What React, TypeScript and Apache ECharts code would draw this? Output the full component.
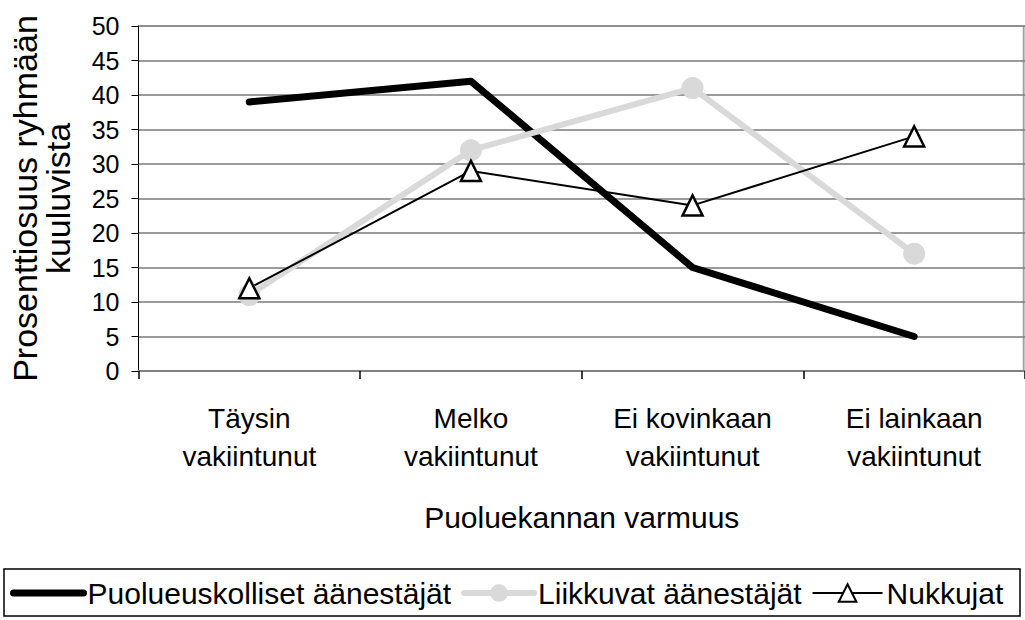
import React, { useEffect, useRef } from "react";
import * as echarts from "echarts";

const categories = ["Täysin\nvakiintunut", "Melko\nvakiintunut", "Ei kovinkaan\nvakiintunut", "Ei lainkaan\nvakiintunut"];
const puolueuskolliset = [39, 42, 15, 5];
const liikkuvat = [11, 32, 41, 17];
const nukkujat = [12, 29, 24, 34];
const seriesNames = ["Puolueuskolliset äänestäjät", "Liikkuvat äänestäjät", "Nukkujat"];
const yAxisTitle = "Prosenttiosuus ryhmään\nkuuluvista";
const xAxisTitle = "Puoluekannan varmuus";

const FONT = "'Liberation Sans', Arial, sans-serif";

export default function App() {
  const ref = useRef<HTMLDivElement>(null);
  useEffect(() => {
    if (!ref.current) return;
    const chart = echarts.init(ref.current, null, { renderer: "svg" });
    chart.setOption({
      animation: false,
      backgroundColor: "#ffffff",
      textStyle: { fontFamily: FONT, color: "#000" },
      grid: {
        left: 137,
        right: -1,
        top: 26,
        bottom: 249,
        show: true,
        borderColor: "#a0a0a0",
        borderWidth: 1,
      },
      xAxis: {
        type: "category",
        data: categories,
        boundaryGap: true,
        name: xAxisTitle,
        nameLocation: "middle",
        nameGap: 131,
        nameTextStyle: { fontSize: 30, fontFamily: FONT, color: "#000", lineHeight: 30 },
        axisLine: { show: true, lineStyle: { color: "#808080", width: 2 } },
        axisTick: { show: true, length: 8, interval: 0, lineStyle: { color: "#000", width: 1.5 } },
        axisLabel: { fontSize: 28, fontFamily: FONT, color: "#000", lineHeight: 38, margin: 28, interval: 0 },
        splitLine: { show: false },
      },
      yAxis: {
        type: "value",
        min: 0,
        max: 50,
        interval: 5,
        name: yAxisTitle,
        nameLocation: "middle",
        nameGap: 64,
        nameTextStyle: { fontSize: 34, fontFamily: FONT, color: "#000", lineHeight: 33 },
        axisLine: { show: true, lineStyle: { color: "#000", width: 1 } },
        axisTick: { show: true, length: 7, lineStyle: { color: "#000", width: 1 } },
        axisLabel: { fontSize: 25, fontFamily: FONT, color: "#000", margin: 19 },
        splitLine: { show: true, lineStyle: { color: "#7a7a7a", width: 1.5 } },
      },
      legend: {
        left: 10,
        top: 578,
        itemWidth: 70,
        itemHeight: 22,
        itemGap: 10,
        padding: 0,
        textStyle: { fontSize: 30, fontFamily: FONT, color: "#000", padding: [0, 0, 0, -1] },
        data: [
          { name: seriesNames[0], itemStyle: { opacity: 0 }, lineStyle: { width: 7, color: "#000" } },
          { name: seriesNames[1], lineStyle: { width: 6, color: "#d9d9d9" } },
          { name: seriesNames[2], lineStyle: { width: 2, color: "#000" } },
        ],
      },
      graphic: [
        {
          type: "line",
          shape: { x1: 1023.5, y1: 26, x2: 1023.5, y2: 371 },
          style: { stroke: "#a0a0a0", lineWidth: 1.5 },
          silent: true,
        },
        {
          type: "rect",
          shape: { x: 4, y: 569, width: 1016, height: 47 },
          style: { fill: "none", stroke: "#000", lineWidth: 1.5 },
          silent: true,
        },
      ],
      series: [
        {
          name: seriesNames[0],
          type: "line",
          data: puolueuskolliset,
          symbol: "none",
          lineStyle: { color: "#000", width: 7, cap: "round", join: "round" },
          itemStyle: { color: "#000" },
        },
        {
          name: seriesNames[1],
          type: "line",
          data: liikkuvat,
          symbol: "circle",
          symbolSize: 22,
          lineStyle: { color: "#d9d9d9", width: 6, cap: "round", join: "round" },
          itemStyle: { color: "#d9d9d9", borderWidth: 0 },
        },
        {
          name: seriesNames[2],
          type: "line",
          data: nukkujat,
          symbol: "triangle",
          symbolSize: 20,
          lineStyle: { color: "#000", width: 2 },
          itemStyle: { color: "#ffffff", borderColor: "#000", borderWidth: 2.5 },
        },
      ],
    });
    return () => chart.dispose();
  }, []);
  return <div ref={ref} style={{ position: "fixed", left: 0, top: 0, width: 1025, height: 620 }} />;
}
